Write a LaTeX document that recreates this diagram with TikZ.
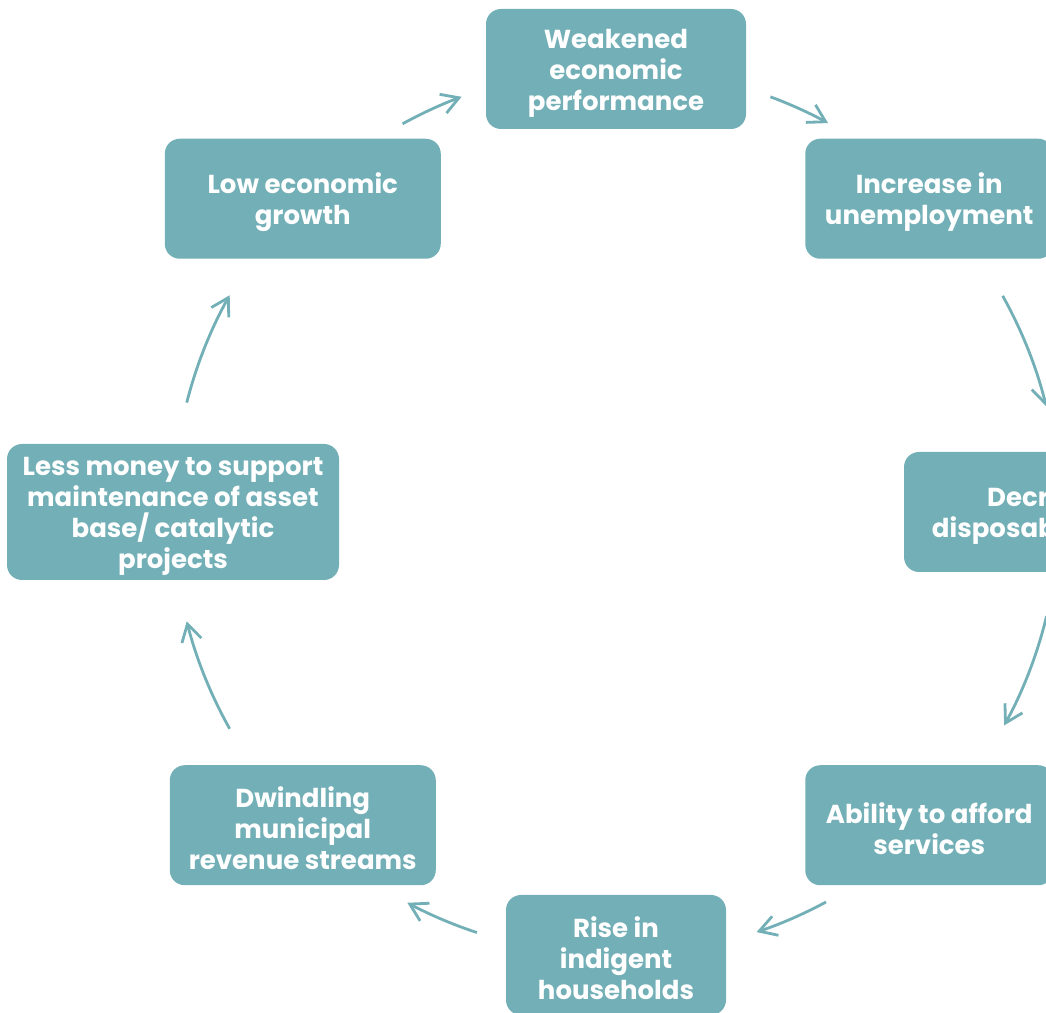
\documentclass[tikz,border=0pt]{standalone}
\usepackage{fontspec}
\setmainfont{Poppins}
\usepackage{xcolor}
\definecolor{cycTeal}{HTML}{72AFB6}
\usetikzlibrary{arrows.meta}
\newcommand{\toplift}{\rule{0pt}{13.5pt}}
\tikzset{
    cycbox/.style={rectangle, rounded corners=7.5pt, fill=cycTeal, text=white,
                   align=center, inner sep=0pt, minimum height=60pt,
                   font=\fontsize{13}{15.5}\selectfont\bfseries},
    cycarrow/.style={-{Straight Barb[length=8.5pt, width=10pt]}, line width=1.4pt,
                     cycTeal, looseness=0.855},
}

\begin{document}
\begin{tikzpicture}[x=0.5pt, y=0.5pt]
    \useasboundingbox (0,0) rectangle (1046,1013);
    \clip (0,0) rectangle (1046,1013);
    \coordinate (hub) at (616,501);
    \def\R{443}
    % the eight stages, clockwise from the top
    \node[cycbox, minimum width=130pt] (weak)  at ([shift={(90:\R)}]hub)   {\toplift Weakened\\economic\\performance};
    \node[cycbox, minimum width=124pt] (unemp) at ([shift={(45:\R)}]hub)   {\toplift Increase in\\unemployment};
    \node[cycbox, minimum width=155pt] (income) at ([shift={(0:\R)}]hub)   {\toplift Decreased\\disposable income};
    \node[cycbox, minimum width=124pt] (afford) at ([shift={(-45:\R)}]hub) {\toplift Ability to afford\\services};
    \node[cycbox, minimum width=110pt] (indig) at ([shift={(-90:\R)}]hub)  {\toplift Rise in\\indigent\\households};
    \node[cycbox, minimum width=133pt] (revenue) at ([shift={(-135:\R)}]hub) {\toplift Dwindling\\municipal\\revenue streams};
    \node[cycbox, minimum width=166pt, minimum height=68pt] (money) at ([shift={(180:\R)}]hub) {\toplift Less money to support\\maintenance of asset\\base/ catalytic\\projects};
    \node[cycbox, minimum width=138pt] (lowgr) at ([shift={(135:\R)}]hub)  {\toplift Low economic\\growth};
    % arrows on the circle between the stages
    \foreach \a/\b [count=\i] in {118.8/110.4, 69.6/61.4, 29.2/13.8, -13.6/-28.8,
                                  -61.7/-71.5, -108.3/-118.1, -150.7/-165.7, 165.7/150.7} {
        \pgfmathsetmacro\bnd{(\a-\b)/2}
        \coordinate (s\i) at ([shift={(\a:\R)}]hub);
        \coordinate (e\i) at ([shift={(\b:\R)}]hub);
        \draw[cycarrow] (s\i) to[bend left=\bnd] (e\i);
    }
\end{tikzpicture}
\end{document}
